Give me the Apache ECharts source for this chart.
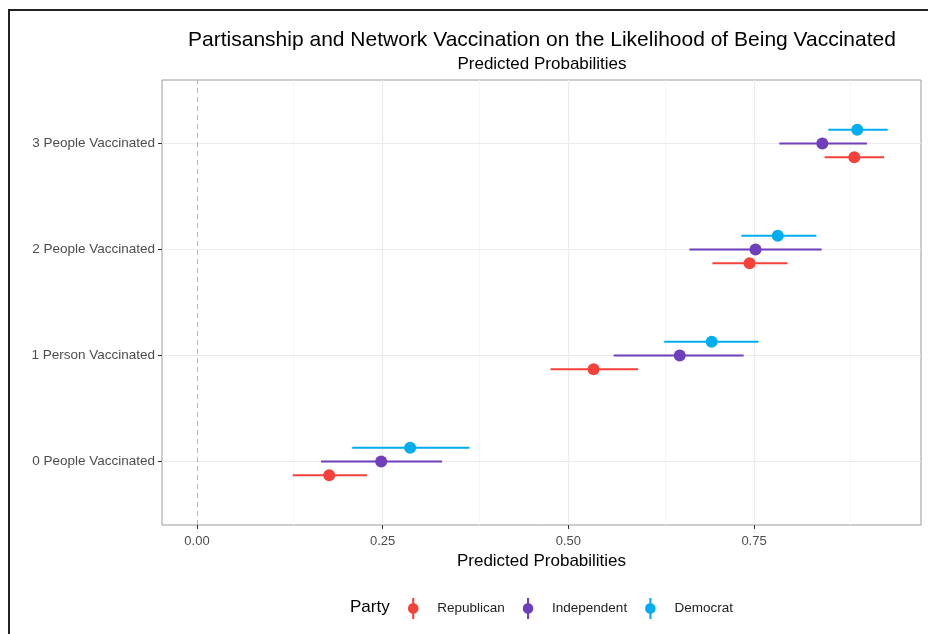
<!DOCTYPE html>
<html>
<head>
<meta charset="utf-8">
<script src="https://cdn.jsdelivr.net/npm/echarts@6/dist/echarts.min.js"></script>
<style>
  html, body { margin: 0; padding: 0; background: #fff; }
  #chart { width: 928px; height: 634px; }
</style>
</head>
<body>
<div id="chart"></div>
<script>
// categories, bottom to top
var groups = ['0 People Vaccinated', '1 Person Vaccinated', '2 People Vaccinated', '3 People Vaccinated'];
var parties = ['Republican', 'Independent', 'Democrat'];
var partyColors = ['#F6413B', '#6E3EBB', '#00ADEF'];
var dodge = [-0.13, 0, 0.13];

// predicted probability with lower / upper bounds, one per group
var repEst = [0.178, 0.534, 0.744, 0.885];
var repLo  = [0.129, 0.476, 0.694, 0.845];
var repHi  = [0.229, 0.594, 0.795, 0.925];

var indEst = [0.248, 0.650, 0.752, 0.842];
var indLo  = [0.167, 0.561, 0.663, 0.784];
var indHi  = [0.330, 0.736, 0.841, 0.902];

var demEst = [0.287, 0.693, 0.782, 0.889];
var demLo  = [0.209, 0.629, 0.733, 0.850];
var demHi  = [0.367, 0.756, 0.834, 0.930];

var xTicks = [0, 0.25, 0.5, 0.75];
var xMinor = [0.125, 0.375, 0.625, 0.875];
var yTicks = [0, 1, 2, 3];

var ests = [repEst, indEst, demEst];
var los = [repLo, indLo, demLo];
var his = [repHi, indHi, demHi];

var fontName = 'Liberation Sans, Arial, sans-serif';
var legendIcon = 'path://M9,0 H11 V5.1 A5,5 0 0,1 11,14.9 V20 H9 V14.9 A5,5 0 0,1 9,5.1 Z';

var myChart = echarts.init(document.getElementById('chart'));

function renderRange(params, api) {
  var y = api.value(3);
  var c = api.coord([api.value(0), y]);
  var lo = api.coord([api.value(1), y]);
  var hi = api.coord([api.value(2), y]);
  var color = api.visual('color');
  return {
    type: 'group',
    children: [
      { type: 'line', shape: { x1: lo[0], y1: lo[1], x2: hi[0], y2: hi[1] },
        style: { stroke: color, lineWidth: 2 } },
      { type: 'circle', shape: { cx: c[0], cy: c[1], r: 6 },
        style: { fill: color } }
    ]
  };
}

var series = parties.map(function (p, i) {
  return {
    name: p,
    type: 'custom',
    renderItem: renderRange,
    itemStyle: { color: partyColors[i] },
    encode: { x: [0, 1, 2], y: 3 },
    z: 5,
    data: groups.map(function (g, j) {
      return [ests[i][j], los[i][j], his[i][j], j + dodge[i]];
    })
  };
});

// grid lines drawn on the axes' scales
var gridLines = [];
xTicks.slice(1).forEach(function (v) {
  gridLines.push({ xAxis: v, lineStyle: { color: '#EBEBEB', width: 1.2, type: 'solid' } });
});
xMinor.forEach(function (v) {
  gridLines.push({ xAxis: v, lineStyle: { color: '#F4F4F4', width: 0.8, type: 'solid' } });
});
yTicks.forEach(function (v) {
  gridLines.push({ yAxis: v, lineStyle: { color: '#EBEBEB', width: 1.2, type: 'solid' } });
});
gridLines.push({ xAxis: 0, lineStyle: { color: '#B5B5B5', width: 1, type: [5, 4] } });

series.unshift({
  name: 'grid',
  type: 'line',
  data: [],
  silent: true,
  z: 1,
  markLine: {
    silent: true,
    symbol: 'none',
    label: { show: false },
    emphasis: { disabled: true },
    data: gridLines
  }
});

myChart.setOption({
  animation: false,
  textStyle: { fontFamily: fontName },
  title: [
    {
      text: 'Partisanship and Network Vaccination on the Likelihood of Being Vaccinated',
      left: 537, top: 25, textAlign: 'center',
      textStyle: { fontSize: 21, fontWeight: 'normal', color: '#000' }
    },
    {
      text: 'Predicted Probabilities',
      left: 537, top: 51, textAlign: 'center',
      textStyle: { fontSize: 17, fontWeight: 'normal', color: '#000' }
    }
  ],
  graphic: [
    { type: 'line', shape: { x1: 8, y1: 10, x2: 928, y2: 10 }, style: { stroke: '#222', lineWidth: 2 } },
    { type: 'line', shape: { x1: 9, y1: 10, x2: 9, y2: 634 }, style: { stroke: '#222', lineWidth: 2 } },
    { type: 'text', left: 350, top: 599, style: { text: 'Party', fontSize: 17, fill: '#000', fontFamily: fontName } }
  ],
  legend: {
    data: parties,
    left: 403,
    top: 593,
    icon: legendIcon,
    itemWidth: 12,
    itemHeight: 21,
    itemGap: 18,
    textStyle: { fontSize: 13.5, color: '#222', padding: [0, 0, 0, 13] }
  },
  grid: {
    left: 162, right: 7, top: 80, bottom: 109,
    show: true, borderColor: '#9A9A9A', borderWidth: 1, backgroundColor: '#fff'
  },
  xAxis: {
    type: 'value',
    min: -0.0471,
    max: 0.9748,
    name: 'Predicted Probabilities',
    nameLocation: 'middle',
    nameGap: 27,
    nameTextStyle: { fontSize: 17, color: '#000' },
    axisLine: { show: false, onZero: false },
    splitLine: { show: false },
    axisTick: { show: true, customValues: xTicks, length: 4, lineStyle: { color: '#333' } },
    axisLabel: {
      customValues: xTicks, fontSize: 13, color: '#4D4D4D', margin: 10,
      formatter: function (v) { return v.toFixed(2); }
    }
  },
  yAxis: {
    type: 'value',
    min: -0.6,
    max: 3.6,
    axisLine: { show: false, onZero: false },
    splitLine: { show: false },
    axisTick: { show: true, customValues: yTicks, length: 4, lineStyle: { color: '#333' } },
    axisLabel: {
      customValues: yTicks, fontSize: 13.5, color: '#4D4D4D', margin: 7,
      formatter: function (v) { return groups[Math.round(v)]; }
    }
  },
  series: series
});
</script>
</body>
</html>
